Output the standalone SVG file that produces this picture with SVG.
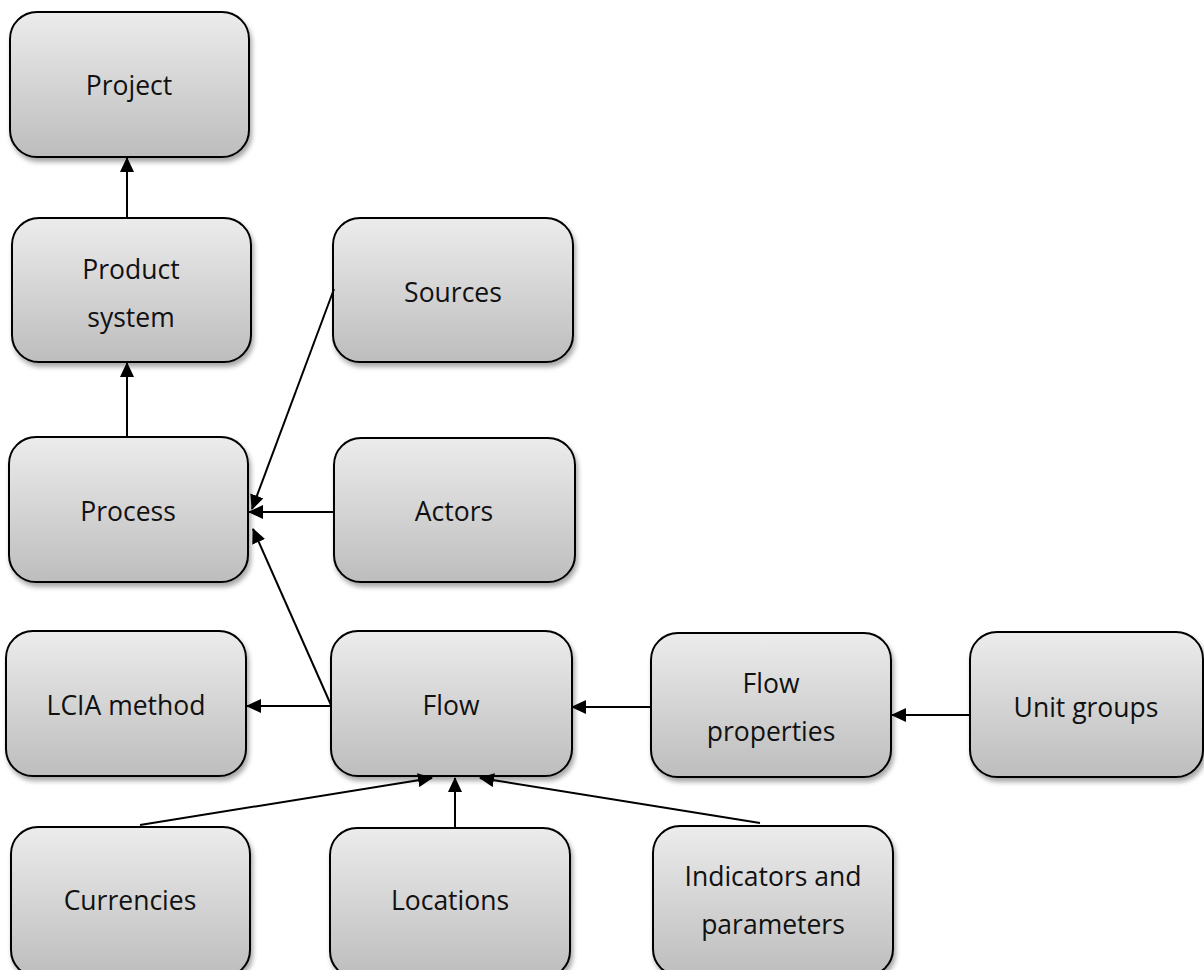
<svg xmlns="http://www.w3.org/2000/svg" width="1204" height="970" viewBox="0 0 1204 970">
<defs>
<linearGradient id="g" x1="0" y1="0" x2="0" y2="1">
<stop offset="0" stop-color="#ececec"/>
<stop offset="1" stop-color="#bdbdbd"/>
</linearGradient>
<filter id="sh" x="-10%" y="-10%" width="130%" height="130%">
<feGaussianBlur in="SourceAlpha" stdDeviation="2.5"/>
<feOffset dx="2" dy="4" result="b"/>
<feComponentTransfer><feFuncA type="linear" slope="0.35"/></feComponentTransfer>
<feMerge><feMergeNode/><feMergeNode in="SourceGraphic"/></feMerge>
</filter>
<marker id="ah" viewBox="0 0 15 14" refX="14" refY="7" markerWidth="15" markerHeight="14" markerUnits="userSpaceOnUse" orient="auto">
<path d="M0,0 L15,7 L0,14 Z" fill="#000"/>
</marker>
</defs>
<style>
.n rect{fill:url(#g);stroke:#000;stroke-width:2;filter:url(#sh)}
.n text{font-family:"Open Sans","Noto Sans","Liberation Sans",sans-serif;font-size:26.5px;fill:#111;text-anchor:middle}
.c line{stroke:#000;stroke-width:2;marker-end:url(#ah)}
</style>
<rect width="1204" height="970" fill="#fff"/>
<g id="project" class="n"><rect x="10" y="12" width="239" height="145" rx="27"/><text x="129" y="95">Project</text></g>
<g id="product-system" class="n"><rect x="12" y="218" width="239" height="144" rx="27"/><text x="131" y="279">Product</text><text x="131" y="327">system</text></g>
<g id="process" class="n"><rect x="9" y="437" width="239" height="145" rx="27"/><text x="128" y="521">Process</text></g>
<g id="sources" class="n"><rect x="333" y="218" width="240" height="144" rx="27"/><text x="453" y="302">Sources</text></g>
<g id="actors" class="n"><rect x="334" y="438" width="241" height="144" rx="27"/><text x="454" y="521">Actors</text></g>
<g id="lcia-method" class="n"><rect x="6" y="631" width="240" height="145" rx="27"/><text x="126" y="715">LCIA method</text></g>
<g id="flow" class="n"><rect x="331" y="631" width="241" height="145" rx="27"/><text x="451" y="715">Flow</text></g>
<g id="flow-properties" class="n"><rect x="651" y="633" width="240" height="144" rx="27"/><text x="771" y="693">Flow</text><text x="771" y="741">properties</text></g>
<g id="unit-groups" class="n"><rect x="970" y="632" width="233" height="145" rx="27"/><text x="1086" y="717">Unit groups</text></g>
<g id="currencies" class="n"><rect x="11" y="827" width="239" height="150" rx="27"/><text x="130" y="910">Currencies</text></g>
<g id="locations" class="n"><rect x="330" y="828" width="240" height="150" rx="27"/><text x="450" y="910">Locations</text></g>
<g id="indicators" class="n"><rect x="653" y="826" width="240" height="150" rx="27"/><text x="773" y="886">Indicators and</text><text x="773" y="934">parameters</text></g>
<g id="connectors" class="c">
<line x1="127" y1="218" x2="127" y2="158"/>
<line x1="127" y1="437" x2="127" y2="363"/>
<line x1="334" y1="289" x2="252" y2="509"/>
<line x1="334" y1="512" x2="249" y2="512"/>
<line x1="331" y1="705" x2="253" y2="529"/>
<line x1="331" y1="706" x2="247" y2="706"/>
<line x1="651" y1="707" x2="572" y2="707"/>
<line x1="970" y1="715" x2="892" y2="715"/>
<line x1="140" y1="825" x2="432" y2="778"/>
<line x1="455" y1="827" x2="455" y2="778"/>
<line x1="760" y1="823" x2="480" y2="778"/>
</g>
</svg>
